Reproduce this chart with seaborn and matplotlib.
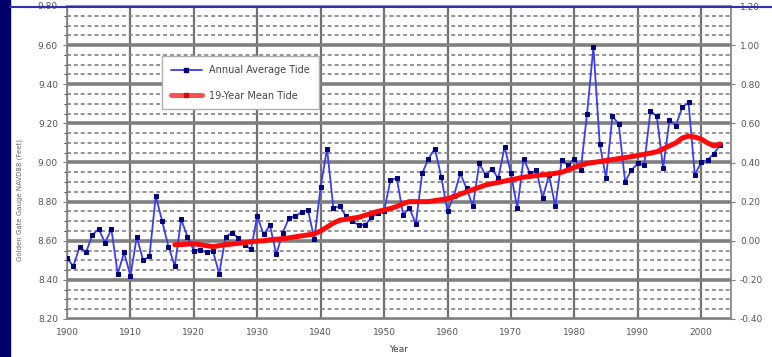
import pandas as pd
import numpy as np
import matplotlib
matplotlib.use('Agg')
import matplotlib.pyplot as plt
import seaborn as sns
from matplotlib.ticker import MultipleLocator, FormatStrFormatter
from matplotlib.lines import Line2D

# Datos
anios = list(range(1900, 2004))
marea_anual = [
    8.51, 8.47, 8.57, 8.54, 8.63, 8.66, 8.59, 8.66, 8.43, 8.54,
    8.42, 8.62, 8.50, 8.52, 8.83, 8.70, 8.57, 8.47, 8.71, 8.62,
    8.55, 8.555, 8.54, 8.55, 8.43, 8.62, 8.64, 8.615, 8.58, 8.556,
    8.725, 8.632, 8.68, 8.53, 8.64, 8.716, 8.725, 8.747, 8.758, 8.607,
    8.877, 9.071, 8.767, 8.776, 8.725, 8.70, 8.68, 8.68, 8.72, 8.74,
    8.75, 8.91, 8.92, 8.733, 8.767, 8.686, 8.944, 9.02, 9.071, 8.928,
    8.75, 8.83, 8.944, 8.868, 8.776, 8.995, 8.936, 8.966, 8.919, 9.08,
    8.944, 8.767, 9.02, 8.944, 8.961, 8.818, 8.936, 8.776, 9.012, 8.986,
    9.02, 8.961, 9.248, 9.59, 9.096, 8.919, 9.236, 9.197, 8.902, 8.961,
    8.995, 8.986, 9.265, 9.236, 8.97, 9.219, 9.189, 9.282, 9.307, 8.936,
    9.003, 9.012, 9.046, 9.09,
]
anios_media = list(range(1917, 2004))
marea_media = [
    8.58, 8.58, 8.583, 8.585, 8.58, 8.575, 8.57, 8.575, 8.58, 8.583,
    8.587, 8.59, 8.595, 8.598, 8.60, 8.605, 8.608, 8.61, 8.615, 8.62,
    8.625, 8.63, 8.635, 8.65, 8.67, 8.69, 8.705, 8.71, 8.715, 8.72,
    8.73, 8.74, 8.75, 8.757, 8.765, 8.775, 8.79, 8.80, 8.80, 8.80,
    8.80, 8.805, 8.81, 8.815, 8.825, 8.838, 8.85, 8.862, 8.873, 8.885,
    8.892, 8.898, 8.905, 8.912, 8.918, 8.925, 8.929, 8.933, 8.937, 8.94,
    8.945, 8.95, 8.962, 8.975, 8.985, 8.995, 9.0, 9.005, 9.01, 9.015,
    9.02, 9.025, 9.03, 9.036, 9.042, 9.048, 9.055, 9.07, 9.085, 9.10,
    9.125, 9.135, 9.13, 9.12, 9.10, 9.085, 9.095,
]

df_anual = pd.DataFrame({'anio': anios, 'marea': marea_anual})
df_media = pd.DataFrame({'anio': anios_media, 'marea': marea_media})

sns.set_style('white')
plt.rcParams['font.family'] = ['DejaVu Sans']

fig = plt.figure(figsize=(7.72, 3.57), dpi=100)
ax = fig.add_axes([67 / 772, 1 - 319 / 357, 664 / 772, 313 / 357])

azul_linea = '#3c3cf0'
azul_marca = '#00007a'
rojo = '#ff0a0a'
gris = '#808080'

# Cuadrícula
ax.set_xlim(1900, 2004.7)
ax.set_ylim(8.20, 9.80)
ax.yaxis.set_major_locator(MultipleLocator(0.2))
ax.yaxis.set_minor_locator(MultipleLocator(0.05))
ax.xaxis.set_major_locator(MultipleLocator(10))
ax.xaxis.set_minor_locator(MultipleLocator(5))
ax.grid(True, which='major', axis='y', color=gris, lw=2.6, zorder=0)
ax.grid(True, which='major', axis='x', color='#707070', lw=1.6, zorder=0)
ax.grid(True, which='minor', axis='y', color='#8a8a8a', lw=1.3, ls=(0, (2.2, 1.6)), zorder=0)
ax.set_axisbelow(True)

sns.lineplot(data=df_anual, x='anio', y='marea', ax=ax, color=azul_linea, lw=1.3,
             marker='s', markersize=3, markerfacecolor=azul_marca, markeredgecolor=azul_marca,
             zorder=3, legend=False)
sns.lineplot(data=df_media, x='anio', y='marea', ax=ax, color=rojo, lw=3.6,
             zorder=4, legend=False)

ax.yaxis.set_major_formatter(FormatStrFormatter('%.2f'))
ax.tick_params(axis='both', which='major', labelsize=6.5, labelcolor='#555555',
               length=3, color=gris)
ax.tick_params(axis='x', which='minor', length=2, color=gris)
ax.set_xlabel('Year', fontsize=6.5, color='#444444', labelpad=6)
ax.set_ylabel('')
for s in ax.spines.values():
    s.set_color(gris)
    s.set_linewidth(1.2)

# Eje derecho
ax2 = ax.twinx()
ax2.set_ylim(-0.40, 1.20)
ax2.yaxis.set_major_locator(MultipleLocator(0.2))
ax2.yaxis.set_major_formatter(FormatStrFormatter('%.2f'))
ax2.tick_params(axis='y', labelsize=6.5, labelcolor='#555555', length=3, color=gris)
for s in ax2.spines.values():
    s.set_visible(False)

# Leyenda
handles = [
    Line2D([], [], color=azul_linea, lw=1.3, marker='s', markersize=3,
           markerfacecolor=azul_marca, markeredgecolor=azul_marca),
    Line2D([], [], color='#ff5050', lw=3.6, marker='s', markersize=3,
           markerfacecolor='#d01010', markeredgecolor='#d01010'),
]
leg = ax.legend(handles, ['Annual Average Tide', '19-Year Mean Tide'],
                loc='upper left', bbox_to_anchor=(0.1355, 0.855), fontsize=7,
                labelspacing=1.6, handlelength=3.2, borderpad=0.9,
                frameon=True, fancybox=False, framealpha=1, edgecolor='#b0b0b0')
for t in leg.get_texts():
    t.set_color('#444444')
leg.set_zorder(6)

# Etiqueta del eje izquierdo y marco
fig.text(20 / 772, 1 - 200 / 357, 'Golden Gate Gauge NAVD88 (Feet)', rotation=90,
         fontsize=5, color='#666666', ha='center', va='center')
fig.patches.append(plt.Rectangle((0, 0), 10 / 772, 1, transform=fig.transFigure,
                                 color='#00006a', zorder=0))
fig.lines.append(Line2D([10 / 772, 1], [1 - 7 / 357, 1 - 7 / 357], transform=fig.transFigure,
                        color='#3030b0', lw=1.5))

plt.savefig('out.png', dpi=100)
